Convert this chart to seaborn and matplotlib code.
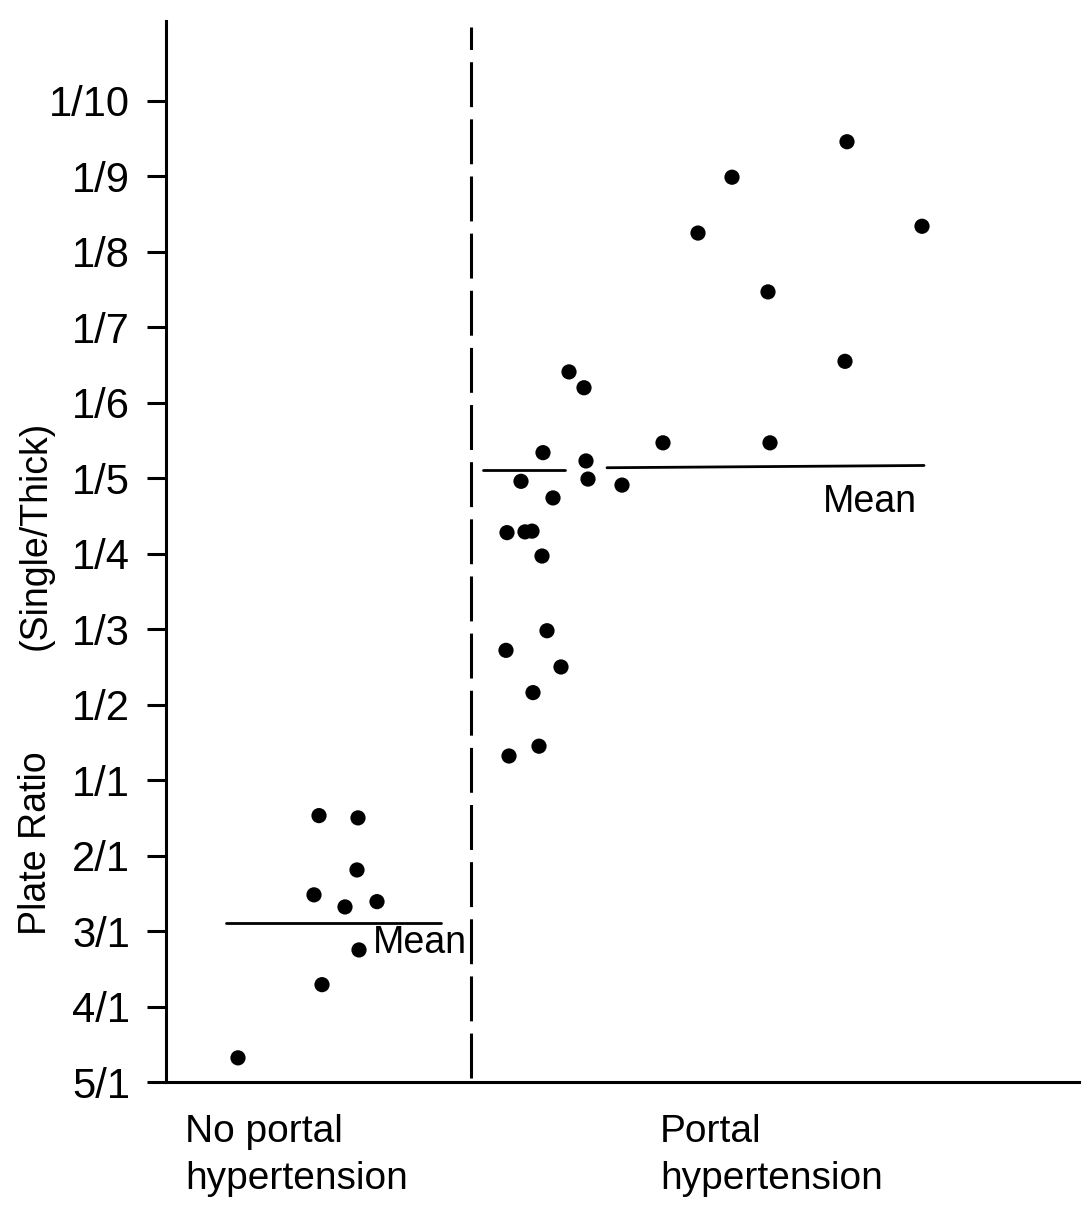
import matplotlib
matplotlib.use("Agg")
import matplotlib.pyplot as plt
import numpy as np
import pandas as pd
import seaborn as sns

# plate ratio categories, bottom to top
ratio_labels = ["5/1", "4/1", "3/1", "2/1", "1/1", "1/2", "1/3", "1/4",
                "1/5", "1/6", "1/7", "1/8", "1/9", "1/10"]

# no portal hypertension (x = horizontal spread, y = position on ratio scale)
nph_x = [238, 319, 358, 357, 314, 345, 377, 359, 322]
nph_y = [0.32, 3.53, 3.50, 2.81, 2.48, 2.32, 2.39, 1.75, 1.29]

# portal hypertension
ph_x = [847, 732, 698, 922, 768, 845, 569, 584, 663, 770, 543, 586, 588,
        521, 622, 553, 507, 525, 532, 542, 547, 506, 561, 533, 539, 509]
ph_y = [12.46, 11.99, 11.25, 11.34, 10.47, 9.55, 9.41, 9.20, 8.47, 8.47,
        8.34, 8.23, 7.99, 7.96, 7.91, 7.74, 7.28, 7.29, 7.30, 6.97, 5.98,
        5.72, 5.50, 5.16, 4.45, 4.32]

# mean lines
nph_mean = 2.11
ph_mean = 8.13

sns.set_theme(style="ticks")
plt.rcParams["font.family"] = ["Liberation Sans", "DejaVu Sans"]
plt.rcParams["text.color"] = "black"
plt.rcParams["ytick.color"] = "black"
plt.rcParams["ytick.labelcolor"] = "black"

data = pd.DataFrame({
    "x": nph_x + ph_x,
    "ratio": nph_y + ph_y,
    "group": ["No portal hypertension"] * len(nph_x) + ["Portal hypertension"] * len(ph_x),
})

fig = plt.figure(figsize=(10.85, 12.15), dpi=100)
ax = fig.add_axes([166 / 1085, 1 - 1082 / 1215, (1079 - 166) / 1085, (1082 - 21) / 1215])

sns.scatterplot(data=data, x="x", y="ratio", color="black", s=120,
                edgecolor="none", legend=False, ax=ax)

# mean lines
ax.plot([226, 441], [nph_mean, nph_mean], color="black", lw=2)
ax.plot([483, 565], [ph_mean - 0.02, ph_mean - 0.02], color="black", lw=2)
ax.plot([607, 924], [ph_mean + 0.01, ph_mean + 0.04], color="black", lw=2)
ax.text(373, nph_mean - 0.27, "Mean", fontsize=27, va="center", ha="left")
ax.text(823, ph_mean - 0.45, "Mean", fontsize=27, va="center", ha="left")

# dashed divider
ax.plot([471, 471], [0.05, 13.98], color="black", lw=2.2, dashes=(14.7, 4))

ax.set_xlim(166, 1079)
ax.set_ylim(0, 14.06)
ax.set_xticks([])
ax.set_yticks(np.arange(len(ratio_labels)))
ax.set_yticklabels(ratio_labels)
ax.tick_params(axis="y", length=14, width=2.2, labelsize=30, pad=12)
ax.set_xlabel("")
ax.set_ylabel("")
sns.despine(ax=ax)
for s in ["left", "bottom"]:
    ax.spines[s].set_linewidth(2.2)
    ax.spines[s].set_color("black")

fig.text(36 / 1085, 1 - 843 / 1215, "Plate Ratio", rotation=90, fontsize=27,
         ha="center", va="center")
fig.text(36 / 1085, 1 - 535 / 1215, "(Single/Thick)", rotation=90, fontsize=27,
         ha="center", va="center")
fig.text(185 / 1085, 1 - 1114 / 1215, "No portal\nhypertension", fontsize=28,
         ha="left", va="top", linespacing=1.4)
fig.text(660 / 1085, 1 - 1114 / 1215, "Portal\nhypertension", fontsize=28,
         ha="left", va="top", linespacing=1.4)

fig.savefig("out.png", dpi=100)
